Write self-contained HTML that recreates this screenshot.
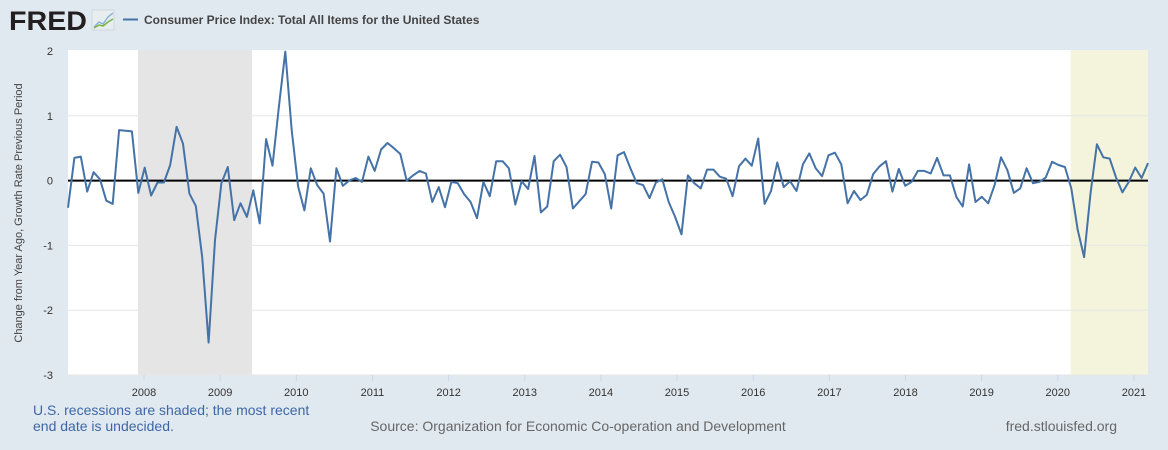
<!DOCTYPE html>
<html><head><meta charset="utf-8"><style>
body{margin:0;width:1168px;height:450px;background:#e1e9f0;overflow:hidden;font-family:"Liberation Sans",sans-serif;}
svg{position:absolute;left:0;top:0}
</style></head><body>
<svg width="1168" height="450">
<g>
<text x="9" y="30" font-size="27" font-weight="bold" fill="#231f20" textLength="78" lengthAdjust="spacingAndGlyphs">FRED</text>
<rect x="92" y="10" width="22" height="20" fill="#e8edf0" stroke="#cfd8de"/>
<polyline points="94,27 99,22 103,24 108,17 113,13" fill="none" stroke="#8ab3d8" stroke-width="1.5"/>
<polyline points="94,28 99,25 103,26 108,22 113,19" fill="none" stroke="#7cb342" stroke-width="1.5"/>
</g>
<g>
<line x1="123" y1="19.5" x2="138" y2="19.5" stroke="#4572a7" stroke-width="2"/>
<text x="144" y="24" font-size="12" font-weight="bold" fill="#444">Consumer Price Index: Total All Items for the United States</text>
</g>
<rect x="68" y="50" width="1080" height="325" fill="#fff"/>
<g id="shade"></g>
<g id="grid"></g>
<g id="series"></g>
<g id="xt"></g>
<text transform="translate(22,213) rotate(-90)" text-anchor="middle" font-size="11" fill="#444">Change from Year Ago, Growth Rate Previous Period</text>
<text x="33" y="415" font-size="14" fill="#3e66a6">U.S. recessions are shaded; the most recent</text>
<text x="33" y="431" font-size="14" fill="#3e66a6">end date is undecided.</text>
<text x="578" y="431" text-anchor="middle" font-size="14" fill="#666">Source: Organization for Economic Co-operation and Development</text>
<text x="1117" y="431" text-anchor="end" font-size="14" fill="#666">fred.stlouisfed.org</text>
</svg>
<script>
const values = [
-0.42,0.35,0.37,-0.17,0.13,0.02,-0.31,-0.36,0.78,0.77,0.76,-0.19,
0.2,-0.23,-0.03,-0.03,0.24,0.83,0.57,-0.2,-0.39,-1.18,-2.5,-0.92,
-0.04,0.21,-0.61,-0.35,-0.56,-0.15,-0.66,0.64,0.23,1.14,1.99,0.78,
-0.09,-0.46,0.19,-0.07,-0.2,-0.94,0.19,-0.08,0.0,0.04,-0.02,0.37,
0.15,0.48,0.58,0.5,0.41,0.0,0.08,0.15,0.11,-0.33,-0.1,-0.41,
-0.02,-0.04,-0.21,-0.33,-0.58,-0.02,-0.24,0.3,0.3,0.19,-0.37,-0.01,
-0.13,0.38,-0.49,-0.4,0.3,0.4,0.21,-0.43,-0.32,-0.21,0.29,0.28,
0.1,-0.43,0.39,0.44,0.19,-0.04,-0.07,-0.27,-0.03,0.02,-0.33,-0.56,
-0.83,0.08,-0.04,-0.12,0.17,0.17,0.06,0.03,-0.24,0.22,0.34,0.23,
0.65,-0.36,-0.16,0.28,-0.1,-0.01,-0.16,0.25,0.42,0.19,0.07,0.39,
0.43,0.25,-0.35,-0.16,-0.3,-0.22,0.1,0.22,0.3,-0.17,0.18,-0.08,
-0.02,0.15,0.15,0.11,0.35,0.08,0.08,-0.25,-0.4,0.25,-0.33,-0.25,
-0.35,-0.07,0.36,0.16,-0.19,-0.12,0.19,-0.04,-0.02,0.05,0.29,0.24,
0.21,-0.12,-0.76,-1.18,-0.2,0.56,0.36,0.34,0.05,-0.18,-0.02,0.2,0.04,0.27];
const yTicks = [2,1,0,-1,-2,-3];
const xYears = [2008,2009,2010,2011,2012,2013,2014,2015,2016,2017,2018,2019,2020,2021];
const recessions = [[2007.92,2009.42],[2020.17,2021.25]];
const NS="http://www.w3.org/2000/svg";
const y = v => 180.6 - v*64.8;
const x = i => 68 + i*(1148-68)/(values.length-1);
const xYear = t => 144 + (t-2008)*76.15;
function mk(tag, attrs, parent){const e=document.createElementNS(NS,tag);for(const k in attrs)e.setAttribute(k,attrs[k]);parent.appendChild(e);return e;}
const shade=document.getElementById('shade');
recessions.forEach((r,k)=>{
  const x0=xYear(r[0]), x1=Math.min(xYear(r[1]),1148);
  const e=mk('rect',{x:x0,y:50,width:x1-x0,height:325,fill:k==0?'#e5e5e5':'#f4f4dc'},shade);
  
  
});
const grid=document.getElementById('grid');
yTicks.forEach(v=>{
  if(v!==0 && v!==2){const l=mk('line',{x1:68,x2:1148,y1:y(v),y2:y(v),stroke:'#e6e6e6',"stroke-width":1},grid);
  
  }
  const t=mk('text',{x:53,y:y(v)+4,"text-anchor":"end","font-size":11,fill:'#333'},grid);
  t.textContent=v;
  
  
});
const z=mk('line',{x1:68,x2:1148,y1:y(0),y2:y(0),stroke:'#000',"stroke-width":2},grid);


const xt=document.getElementById('xt');
xYears.forEach(yr=>{
  const px=xYear(yr);
  const tk=mk('line',{x1:px,x2:px,y1:375,y2:381,stroke:'#ccd6eb'},xt);
  
  
  const t=mk('text',{x:px,y:396,"text-anchor":"middle","font-size":11,fill:'#333'},xt);
  t.textContent=yr;
  
  
});
const s=document.getElementById('series');
const p=mk('polyline',{points:values.map((v,i)=>x(i).toFixed(1)+','+y(v).toFixed(1)).join(' '),fill:'none',stroke:'#4572a7',"stroke-width":2,"stroke-linejoin":"round"},s);


</script>
</body></html>
